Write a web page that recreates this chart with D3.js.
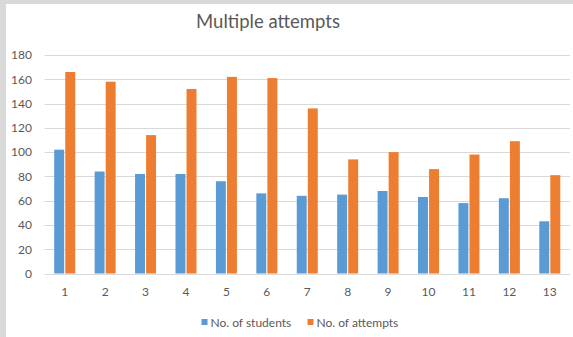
<!DOCTYPE html>
<html>
<head>
<meta charset="utf-8">
<script src="https://cdn.jsdelivr.net/npm/d3@7"></script>
<style>
  html, body { margin: 0; padding: 0; background: #d9d9d9; }
  svg { display: block; }
  text { font-family: Lato, "Open Sans", sans-serif; fill: #595959; }
</style>
</head>
<body>
<svg id="chart" width="573" height="337"></svg>
<script>
// Chart data
const categories = ["1", "2", "3", "4", "5", "6", "7", "8", "9", "10", "11", "12", "13"];
const students = [102, 84, 82, 82, 76, 66, 64, 65, 68, 63, 58, 62, 43];
const attempts = [166, 158, 114, 152, 162, 161, 136, 94, 100, 86, 98, 109, 81];
const seriesNames = ["No. of students", "No. of attempts"];
const seriesColors = ["#5b9bd5", "#ed7d31"];
const yTicks = [0, 20, 40, 60, 80, 100, 120, 140, 160, 180];

const svg = d3.select("#chart");

// White chart area
svg.append("rect")
  .attr("x", 6).attr("y", 4)
  .attr("width", 567).attr("height", 333)
  .attr("fill", "#ffffff");

const x = d3.scaleBand().domain(categories).range([44.5, 570]).paddingInner(0).paddingOuter(0);
const y = d3.scaleLinear().domain([0, 180]).range([273.5, 55]);
const inner = d3.scaleBand().domain(seriesNames).range([-10.5, 10.5]).paddingInner(0.1);

// Title
svg.append("text")
  .attr("x", 268).attr("y", 28)
  .attr("text-anchor", "middle")
  .style("font-size", "18.5px")
  .text("Multiple attempts");

// Gridlines
svg.append("g")
  .selectAll("line")
  .data(yTicks)
  .join("line")
  .attr("x1", x.range()[0]).attr("x2", x.range()[1])
  .attr("y1", d => Math.round(y(d)) + 0.5).attr("y2", d => Math.round(y(d)) + 0.5)
  .attr("stroke", "#d9d9d9").attr("stroke-width", 1);

// Y axis labels
const yAxis = d3.axisLeft(y).tickValues(yTicks).tickSize(0).tickPadding(0);
const yg = svg.append("g").attr("transform", "translate(32,0)").call(yAxis);
yg.select(".domain").remove();
yg.selectAll("text").style("font-size", "12px").attr("fill", "#595959").attr("font-family", null);

// X axis labels
const xAxis = d3.axisBottom(x).tickSize(0).tickPadding(0);
const xg = svg.append("g").attr("transform", "translate(0,287.5)").call(xAxis);
xg.select(".domain").remove();
xg.selectAll("text").style("font-size", "12px").attr("fill", "#595959").attr("font-family", null);

// Bars
const rows = categories.map((c, i) => ({ c, vals: [students[i], attempts[i]] }));
const groups = svg.append("g").selectAll("g")
  .data(rows)
  .join("g")
  .attr("transform", d => `translate(${x(d.c) + x.bandwidth() / 2},0)`);

groups.selectAll("rect")
  .data(d => d.vals.map((v, k) => ({ v, k })))
  .join("rect")
  .attr("x", d => inner(seriesNames[d.k]))
  .attr("width", inner.bandwidth())
  .attr("y", d => y(d.v))
  .attr("height", d => y(0) - y(d.v))
  .attr("fill", d => seriesColors[d.k]);

// Legend
const legend = svg.append("g").attr("transform", "translate(0,322)");
const legendX = [201.5, 307.5];
seriesNames.forEach((name, k) => {
  legend.append("rect")
    .attr("x", legendX[k]).attr("y", -3)
    .attr("width", 6).attr("height", 6)
    .attr("fill", seriesColors[k]);
  legend.append("text")
    .attr("x", legendX[k] + 9).attr("y", 4.5)
    .style("font-size", "12px")
    .text(name);
});
</script>
</body>
</html>
